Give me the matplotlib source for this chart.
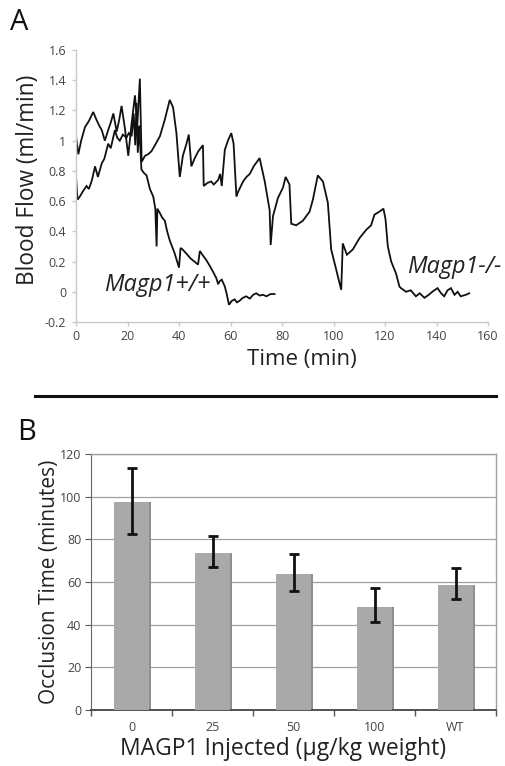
import matplotlib
matplotlib.use("Agg")
import matplotlib.pyplot as plt
import numpy as np

plt.rcParams['font.family'] = ['Open Sans', 'DejaVu Sans']

# ---------------- Panel A data ----------------
t_wt = [0, 0.6, 1.5, 2.5, 4.1, 5.0, 6.2, 7.4, 8.5, 10.0, 11.0, 12.5, 13.5, 15.1, 16.0, 17.0,
        18.2, 19.6, 20.5, 21.6, 22.4, 23.0, 23.5, 24.0, 24.5, 25.0, 25.4, 26.2, 27.4, 28.7,
        30.0, 30.8, 31.3, 31.6, 32.6, 33.5, 34.5, 35.4, 36.4, 38.2, 40.0, 40.6, 41.4, 43.0,
        44.5, 46.0, 47.4, 48.1, 49.3, 50.6, 52.0, 53.3, 54.5, 55.2, 55.8, 56.6, 57.8, 58.6,
        59.4, 60.5, 61.6, 62.5, 63.5, 64.8, 66.1, 67.5, 68.8, 70.0, 71.3, 72.6, 74.0, 75.5, 77.1]
v_wt = [0.76, 0.61, 0.63, 0.66, 0.70, 0.68, 0.74, 0.83, 0.76, 0.85, 0.88, 0.98, 0.95, 1.07, 1.02, 1.00,
        1.04, 1.02, 1.05, 1.03, 1.18, 0.97, 1.25, 0.92, 1.10, 0.95, 0.81, 0.79, 0.77, 0.68,
        0.63, 0.55, 0.30, 0.55, 0.52, 0.49, 0.47, 0.40, 0.34, 0.26, 0.16, 0.29, 0.28, 0.25,
        0.22, 0.20, 0.18, 0.27, 0.24, 0.21, 0.17, 0.13, 0.09, 0.05, 0.07, 0.08, 0.035, -0.02,
        -0.086, -0.06, -0.05, -0.07, -0.06, -0.04, -0.03, -0.045, -0.02, -0.01, -0.025, -0.02, -0.03, -0.015, -0.015]

t_ko = [0, 0.9, 2.0, 3.5, 5.0, 6.7, 7.9, 9.0, 10.0, 11.2, 12.5, 13.5, 14.5, 15.8, 16.8, 17.7,
        19.0, 20.3, 21.5, 22.9, 23.8, 24.8, 25.5, 26.8, 28.0, 29.3, 31.0, 32.6, 34.5, 36.4,
        37.7, 39.0, 40.3, 41.5, 42.9, 43.8, 44.8, 46.0, 47.5, 49.3, 49.6, 51.0, 52.5, 53.5,
        55.2, 56.0, 56.6, 57.8, 59.0, 60.3, 61.2, 62.3, 62.9, 64.9, 66.2, 67.5, 69.0, 70.7,
        71.3, 73.3, 75.2, 75.6, 76.5, 78.4, 80.4, 81.4, 82.9, 83.6, 85.5, 88.1, 90.7, 92.0,
        93.9, 95.9, 97.8, 99.1, 101.0, 103.0, 103.6, 105.2, 107.5, 110.1, 112.7, 114.6, 115.9,
        117.8, 119.4, 120.2, 121.1, 122.4, 124.3, 125.6, 126.2, 128.2, 130.0, 132.0, 133.5,
        135.3, 137.0, 138.5, 140.4, 141.8, 143.0, 144.3, 145.6, 147.0, 148.2, 149.4, 151.4, 152.7]
v_ko = [1.03, 0.91, 1.00, 1.09, 1.13, 1.19, 1.14, 1.10, 1.07, 1.00, 1.07, 1.12, 1.18, 1.06, 1.14, 1.23,
        1.08, 0.90, 1.10, 1.30, 1.10, 1.41, 0.86, 0.90, 0.91, 0.93, 0.98, 1.03, 1.14, 1.27,
        1.22, 1.05, 0.76, 0.90, 0.98, 1.04, 0.83, 0.88, 0.93, 0.97, 0.70, 0.72, 0.73, 0.71,
        0.74, 0.78, 0.70, 0.94, 1.00, 1.05, 0.98, 0.63, 0.66, 0.73, 0.76, 0.78, 0.83, 0.87,
        0.885, 0.73, 0.54, 0.31, 0.50, 0.62, 0.69, 0.76, 0.71, 0.45, 0.44, 0.47, 0.53, 0.61,
        0.77, 0.73, 0.59, 0.28, 0.15, 0.013, 0.32, 0.245, 0.28, 0.355, 0.41, 0.44, 0.51,
        0.53, 0.55, 0.48, 0.30, 0.20, 0.12, 0.035, 0.024, 0.0, 0.01, -0.03, -0.01,
        -0.04, -0.02, 0.002, 0.024, -0.01, -0.03, 0.01, 0.024, -0.02, 0.0, -0.03, -0.02, -0.01]

xticks_a = [0, 20, 40, 60, 80, 100, 120, 140, 160]
yticks_a = [-0.2, 0, 0.2, 0.4, 0.6, 0.8, 1, 1.2, 1.4, 1.6]
ytick_labels_a = ['-0.2', '0', '0.2', '0.4', '0.6', '0.8', '1', '1.2', '1.4', '1.6']

# ---------------- Panel B data ----------------
categories = ['0', '25', '50', '100', 'WT']
occlusion = [97.5, 73.8, 63.8, 48.4, 58.4]
err_low = [82.3, 67.0, 55.9, 41.2, 51.9]
err_high = [113.6, 81.7, 73.1, 57.0, 66.4]

W, H = 505, 766
fig = plt.figure(figsize=(W / 100, H / 100), dpi=100)

def fx(x):
    return x / W

def fy(y):
    return 1 - y / H

# ---------------- Panel A ----------------
axA = fig.add_axes([fx(76), fy(322), fx(488) - fx(76), fy(50) - fy(322)])
axA.plot(t_wt, v_wt, color='#111111', lw=1.3, solid_joinstyle='miter')
axA.plot(t_ko, v_ko, color='#111111', lw=1.3, solid_joinstyle='miter')
axA.set_xlim(0, 160)
axA.set_ylim(-0.2, 1.6)
axA.set_xticks(xticks_a)
axA.set_yticks(yticks_a)
axA.set_yticklabels(ytick_labels_a)
for s in ['top', 'right']:
    axA.spines[s].set_visible(False)
for s in ['left', 'bottom']:
    axA.spines[s].set_color('#c8c8c8')
    axA.spines[s].set_linewidth(1.0)
axA.tick_params(axis='both', colors='#c8c8c8', labelcolor='#444444', labelsize=9, length=3, width=1)
axA.tick_params(axis='y', pad=4)
axA.tick_params(axis='x', pad=3)
axA.text(31.6, 0.046, 'Magp1+/+', fontsize=16.8, style='italic', ha='center', va='center', color='#222222')
axA.text(146.9, 0.166, 'Magp1-/-', fontsize=16.8, style='italic', ha='center', va='center', color='#222222')
fig.text(fx(302), fy(360), 'Time (min)', fontsize=16, ha='center', va='center', color='#222222')
fig.text(fx(28), fy(180), 'Blood Flow (ml/min)', fontsize=16.3, ha='center', va='center',
         rotation=90, color='#222222')
fig.text(fx(19), fy(23), 'A', fontsize=21, ha='center', va='center', color='#111111')

# separator line
fig.add_artist(plt.Line2D([fx(35), fx(496)], [fy(396), fy(396)], color='#111111', lw=2.2))

# ---------------- Panel B ----------------
axB = fig.add_axes([fx(91), fy(710), fx(496) - fx(91), fy(454) - fy(710)])
x = np.arange(len(categories))
axB.set_axisbelow(True)
axB.yaxis.grid(True, color='#a0a0a0', lw=0.9)
axB.bar(x + 0.03, occlusion, width=0.42, color='#8f8f8f', zorder=2)
axB.bar(x, occlusion, width=0.42, color='#a9a9a9', zorder=3)
yerr = [np.array(occlusion) - np.array(err_low), np.array(err_high) - np.array(occlusion)]
axB.errorbar(x, occlusion, yerr=yerr, fmt='none', ecolor='#111111', elinewidth=2.0,
             capsize=3.5, capthick=2.0, zorder=4)
axB.set_xlim(-0.5, 4.5)
axB.set_ylim(0, 120)
axB.set_yticks([0, 20, 40, 60, 80, 100, 120])
axB.set_xticks(x)
axB.set_xticklabels(categories)
axB.set_xticks(np.arange(-0.5, 4.6, 1), minor=True)
axB.tick_params(axis='x', which='major', length=0, labelsize=9, labelcolor='#444444', pad=8)
axB.tick_params(axis='x', which='minor', length=4, color='#555555', width=1)
axB.tick_params(axis='y', length=4, color='#555555', labelsize=9, labelcolor='#444444', pad=3)
for s in ['top', 'right']:
    axB.spines[s].set_color('#a0a0a0')
    axB.spines[s].set_linewidth(1.0)
axB.spines['left'].set_color('#666666')
axB.spines['bottom'].set_color('#444444')
axB.spines['bottom'].set_linewidth(1.3)
fig.text(fx(50), fy(582), 'Occlusion Time (minutes)', fontsize=15, ha='center', va='center',
         rotation=90, color='#222222')
fig.text(fx(283), fy(749), 'MAGP1 Injected (µg/kg weight)', fontsize=16.5, ha='center', va='center',
         color='#222222')
fig.text(fx(27), fy(432), 'B', fontsize=21, ha='center', va='center', color='#111111')

fig.savefig('out.png', dpi=100)
